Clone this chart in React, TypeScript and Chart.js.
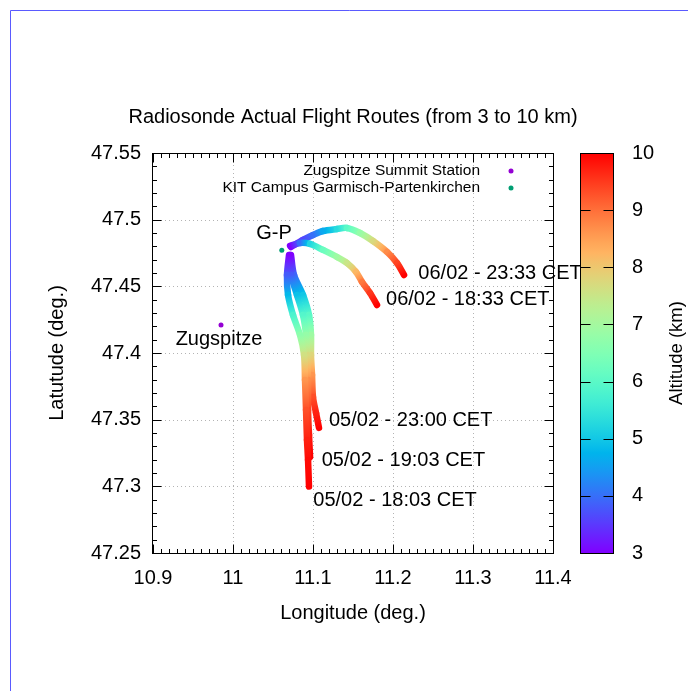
import React, { useEffect, useRef } from 'react';
import { Chart, registerables } from 'chart.js';

Chart.register(...registerables);

const FONT = "'Liberation Sans', Arial, Helvetica, sans-serif";

// Axis ticks
const xTicks = [10.9, 11.0, 11.1, 11.2, 11.3, 11.4];
const xTickLabels = ['10.9', '11', '11.1', '11.2', '11.3', '11.4'];
const yTicks = [47.25, 47.3, 47.35, 47.4, 47.45, 47.5, 47.55];
const yTickLabels = ['47.25', '47.3', '47.35', '47.4', '47.45', '47.5', '47.55'];
const cbTicks = [3, 4, 5, 6, 7, 8, 9, 10];

// Flight 05/02 - 18:03 CET
const lon0518 = [11.07, 11.0675, 11.0688, 11.075, 11.0838, 11.0888, 11.09, 11.0913, 11.0925, 11.0938, 11.095];
const lat0518 = [47.4735, 47.4585, 47.4435, 47.4285, 47.4135, 47.3985, 47.3798, 47.3573, 47.3348, 47.3198, 47.2998];
const alt0518 = [3.0, 3.8, 4.8, 5.8, 6.7, 7.6, 8.6, 9.3, 9.7, 9.9, 10.0];

// Flight 05/02 - 19:03 CET
const lon0519 = [11.0713, 11.0725, 11.08, 11.0875, 11.0913, 11.0925, 11.0938, 11.0938, 11.095, 11.0963];
const lat0519 = [47.4735, 47.4585, 47.4435, 47.4285, 47.4135, 47.3985, 47.3798, 47.3573, 47.3385, 47.322];
const alt0519 = [3.0, 3.8, 4.9, 5.9, 6.8, 7.7, 8.7, 9.4, 9.8, 10.0];

// Flight 05/02 - 23:00 CET
const lon0523 = [11.0725, 11.0763, 11.0875, 11.095, 11.0975, 11.0975, 11.0988, 11.1, 11.1038, 11.1075];
const lat0523 = [47.4735, 47.4585, 47.4435, 47.4285, 47.4135, 47.3985, 47.3835, 47.367, 47.355, 47.3438];
const alt0523 = [3.0, 3.9, 5.0, 6.0, 6.9, 7.8, 8.6, 9.3, 9.7, 10.0];

// Flight 06/02 - 18:33 CET
const lon0618 = [11.0713, 11.0838, 11.0963, 11.1125, 11.13, 11.1425, 11.1538, 11.1613, 11.1713, 11.18];
const lat0618 = [47.4803, 47.4825, 47.4818, 47.4773, 47.472, 47.4675, 47.4608, 47.4533, 47.445, 47.436];
const alt0618 = [3.0, 4.0, 5.2, 6.2, 6.9, 7.5, 8.2, 8.9, 9.5, 10.0];

// Flight 06/02 - 23:33 CET
const lon0623 = [11.0725, 11.0875, 11.1, 11.1125, 11.13, 11.1425, 11.1588, 11.175, 11.1925, 11.205, 11.2138];
const lat0623 = [47.4795, 47.4848, 47.4885, 47.4915, 47.493, 47.4938, 47.49, 47.484, 47.4758, 47.4675, 47.4585];
const alt0623 = [3.0, 3.6, 4.0, 4.6, 5.3, 6.0, 6.8, 7.7, 8.7, 9.4, 10.0];

// Stations
const stationNames = ['Zugspitze Summit Station', 'KIT Campus Garmisch-Partenkirchen'];
const stationLon = [10.985, 11.061];
const stationLat = [47.421, 47.477];
const stationColors = ['#9400d3', '#009e73'];

// Text annotations (anchored in data coordinates)
const noteTexts = ['06/02 - 23:33 CET', '06/02 - 18:33 CET', '05/02 - 23:00 CET', '05/02 - 19:03 CET', '05/02 - 18:03 CET', 'G-P', 'Zugspitze'];
const noteLon = [11.2317, 11.1913, 11.12, 11.1109, 11.1004, 11.0513, 10.9825];
const noteLat = [47.46, 47.4405, 47.3495, 47.3195, 47.2895, 47.49, 47.4098];
const noteAlign = ['left', 'left', 'left', 'left', 'left', 'center', 'center'];

const TITLE = 'Radiosonde Actual Flight Routes (from 3 to 10 km)';
const CB_TITLE = 'Altitude (km)';
const ALT_MIN = 3;
const ALT_MAX = 10;

function rainbow(alt: number): string {
  const t = Math.min(1, Math.max(0, (alt - ALT_MIN) / (ALT_MAX - ALT_MIN)));
  const r = Math.min(1, Math.abs(2 * t - 0.5));
  const g = Math.sin(Math.PI * t);
  const b = Math.cos((Math.PI * t) / 2);
  return `rgb(${Math.round(r * 255)},${Math.round(g * 255)},${Math.round(b * 255)})`;
}

function makeTrack(lon: number[], lat: number[], alt: number[]) {
  return {
    showLine: true,
    data: lon.map((x, i) => ({ x, y: lat[i] })),
    alt,
    borderWidth: 6.5,
    borderCapStyle: 'round',
    borderJoinStyle: 'round',
    tension: 0.3,
    pointRadius: 0,
    borderColor: rainbow(5),
    segment: {
      borderColor: (ctx: any) => {
        const c = ctx.chart.ctx as CanvasRenderingContext2D;
        const alts = ctx.chart.data.datasets[ctx.datasetIndex].alt as number[];
        const a0 = alts[ctx.p0DataIndex];
        const a1 = alts[ctx.p1DataIndex];
        const g = c.createLinearGradient(ctx.p0.x, ctx.p0.y, ctx.p1.x, ctx.p1.y);
        const n = 6;
        for (let k = 0; k <= n; k++) {
          g.addColorStop(k / n, rainbow(a0 + ((a1 - a0) * k) / n));
        }
        return g;
      },
    },
  };
}

const decor = {
  id: 'decor',
  beforeDatasetsDraw(chart: any) {
    const { ctx, chartArea: a, scales } = chart;
    const sx = scales.x;
    const sy = scales.y;
    ctx.save();
    ctx.strokeStyle = '#b4b4b4';
    ctx.lineWidth = 1;
    ctx.setLineDash([1, 3]);
    xTicks.slice(1, -1).forEach((v) => {
      const p = Math.round(sx.getPixelForValue(v)) + 0.5;
      ctx.beginPath();
      ctx.moveTo(p, a.top);
      ctx.lineTo(p, a.bottom);
      ctx.stroke();
    });
    yTicks.slice(1, -1).forEach((v) => {
      const p = Math.round(sy.getPixelForValue(v)) + 0.5;
      ctx.beginPath();
      ctx.moveTo(a.left, p);
      ctx.lineTo(a.right, p);
      ctx.stroke();
    });
    ctx.restore();
  },
  afterDatasetsDraw(chart: any) {
    const { ctx, chartArea: a, scales } = chart;
    const sx = scales.x;
    const sy = scales.y;
    const L = a.left - 0.5;
    const R = a.right + 0.5;
    const T = a.top + 0.5;
    const B = a.bottom + 0.5;
    ctx.save();
    ctx.setLineDash([]);
    ctx.strokeStyle = '#000';
    ctx.lineWidth = 1;
    ctx.strokeRect(L, T, R - L, B - T);

    // inward ticks, all four sides
    const MAJ = 9;
    const MIN = 4.5;
    ctx.beginPath();
    for (let i = 0; i <= 50; i++) {
      const v = xTicks[0] + i * 0.01;
      const p = Math.round(sx.getPixelForValue(v)) + 0.5;
      const len = i % 10 === 0 ? MAJ : MIN;
      ctx.moveTo(p, B);
      ctx.lineTo(p, B - len);
      ctx.moveTo(p, T);
      ctx.lineTo(p, T + len);
    }
    for (let i = 0; i <= 30; i++) {
      const v = yTicks[0] + i * 0.01;
      const p = Math.round(sy.getPixelForValue(v)) + 0.5;
      const len = i % 5 === 0 ? MAJ : MIN;
      ctx.moveTo(L, p);
      ctx.lineTo(L + len, p);
      ctx.moveTo(R, p);
      ctx.lineTo(R - len, p);
    }
    ctx.stroke();

    // title
    ctx.fillStyle = '#000';
    ctx.font = `20px ${FONT}`;
    ctx.textAlign = 'center';
    ctx.textBaseline = 'middle';
    ctx.fillText(TITLE, (a.left + a.right) / 2, a.top - 36);

    // annotations
    noteTexts.forEach((t, i) => {
      ctx.textAlign = noteAlign[i] as CanvasTextAlign;
      ctx.fillText(t, sx.getPixelForValue(noteLon[i]), sy.getPixelForValue(noteLat[i]));
    });

    // legend
    ctx.font = `15.5px ${FONT}`;
    ctx.textAlign = 'right';
    stationNames.forEach((name, i) => {
      const yy = a.top + 18 + i * 17;
      ctx.fillStyle = '#000';
      ctx.fillText(name, a.right - 73, yy);
      ctx.fillStyle = stationColors[i];
      ctx.beginPath();
      ctx.arc(a.right - 42, yy, 2.5, 0, Math.PI * 2);
      ctx.fill();
    });

    // colour bar
    const cbL = a.right + 27;
    const cbW = 33;
    const cbT = a.top;
    const cbB = a.bottom;
    const grad = ctx.createLinearGradient(0, cbB, 0, cbT);
    for (let k = 0; k <= 40; k++) {
      grad.addColorStop(k / 40, rainbow(ALT_MIN + ((ALT_MAX - ALT_MIN) * k) / 40));
    }
    ctx.fillStyle = grad;
    ctx.fillRect(cbL, cbT, cbW, cbB - cbT);
    ctx.strokeStyle = '#000';
    ctx.strokeRect(cbL + 0.5, cbT + 0.5, cbW, cbB - cbT);
    const cbPix = (v: number) => cbB - ((v - ALT_MIN) / (ALT_MAX - ALT_MIN)) * (cbB - cbT);
    ctx.beginPath();
    cbTicks.forEach((v) => {
      const p = Math.round(cbPix(v)) + 0.5;
      ctx.moveTo(cbL + 0.5, p);
      ctx.lineTo(cbL + 10.5, p);
      ctx.moveTo(cbL + cbW + 0.5, p);
      ctx.lineTo(cbL + cbW - 9.5, p);
    });
    ctx.stroke();
    ctx.fillStyle = '#000';
    ctx.font = `20px ${FONT}`;
    ctx.textAlign = 'left';
    cbTicks.forEach((v) => {
      ctx.fillText(String(v), cbL + cbW + 19, cbPix(v));
    });
    ctx.save();
    ctx.translate(cbL + cbW + 64, (cbT + cbB) / 2);
    ctx.rotate(-Math.PI / 2);
    ctx.textAlign = 'center';
    ctx.font = `18.5px ${FONT}`;
    ctx.fillText(CB_TITLE, 0, 0);
    ctx.restore();

    // outer frame
    ctx.strokeStyle = '#5a5aff';
    ctx.lineWidth = 1;
    ctx.beginPath();
    ctx.moveTo(10.5, chart.height);
    ctx.lineTo(10.5, 10.5);
    ctx.lineTo(chart.width, 10.5);
    ctx.stroke();
    ctx.restore();
  },
};

export default function App() {
  const ref = useRef<HTMLCanvasElement | null>(null);
  useEffect(() => {
    if (!ref.current) return;
    const tracks = [
      makeTrack(lon0518, lat0518, alt0518),
      makeTrack(lon0519, lat0519, alt0519),
      makeTrack(lon0523, lat0523, alt0523),
      makeTrack(lon0618, lat0618, alt0618),
      makeTrack(lon0623, lat0623, alt0623),
    ];
    const stations = stationNames.map((name, i) => ({
      label: name,
      data: [{ x: stationLon[i], y: stationLat[i] }],
      pointRadius: 2.5,
      pointBackgroundColor: stationColors[i],
      pointBorderWidth: 0,
      showLine: false,
    }));
    const chart = new Chart(ref.current, {
      type: 'scatter',
      data: { datasets: [...stations, ...tracks] as any },
      options: {
        responsive: false,
        animation: false,
        events: [],
        layout: { padding: { left: 0, top: 153, right: 135, bottom: 0 } },
        plugins: {
          legend: { display: false },
          tooltip: { enabled: false },
          title: { display: false },
        },
        scales: {
          x: {
            type: 'linear',
            min: 10.9,
            max: 11.4,
            afterBuildTicks: (s: any) => {
              s.ticks = xTicks.map((v) => ({ value: v }));
            },
            afterFit: (s: any) => {
              s.height = 138;
            },
            ticks: {
              autoSkip: false,
              maxRotation: 0,
              color: '#000',
              padding: 13,
              font: { size: 20, family: FONT },
              callback: (_v: any, i: number) => xTickLabels[i],
            },
            grid: { display: false, drawTicks: false },
            border: { display: false },
            title: {
              display: true,
              text: 'Longitude (deg.)',
              color: '#000',
              font: { size: 20, family: FONT },
              padding: { top: 0, bottom: 66 },
            },
          },
          y: {
            type: 'linear',
            min: 47.25,
            max: 47.55,
            afterBuildTicks: (s: any) => {
              s.ticks = yTicks.map((v) => ({ value: v }));
            },
            afterFit: (s: any) => {
              s.width = 153;
            },
            ticks: {
              autoSkip: false,
              color: '#000',
              padding: 12,
              font: { size: 20, family: FONT },
              callback: (_v: any, i: number) => yTickLabels[i],
            },
            grid: { display: false, drawTicks: false },
            border: { display: false },
            title: {
              display: true,
              text: 'Latutude (deg.)',
              color: '#000',
              font: { size: 20, family: FONT },
              padding: { top: 45, bottom: 0 },
            },
          },
        },
      } as any,
      plugins: [decor],
    });
    return () => chart.destroy();
  }, []);
  return (
    <div style={{ position: 'fixed', left: 0, top: 0, width: 688, height: 691, background: '#fff' }}>
      <canvas ref={ref} width={688} height={691} style={{ display: 'block' }} />
    </div>
  );
}
